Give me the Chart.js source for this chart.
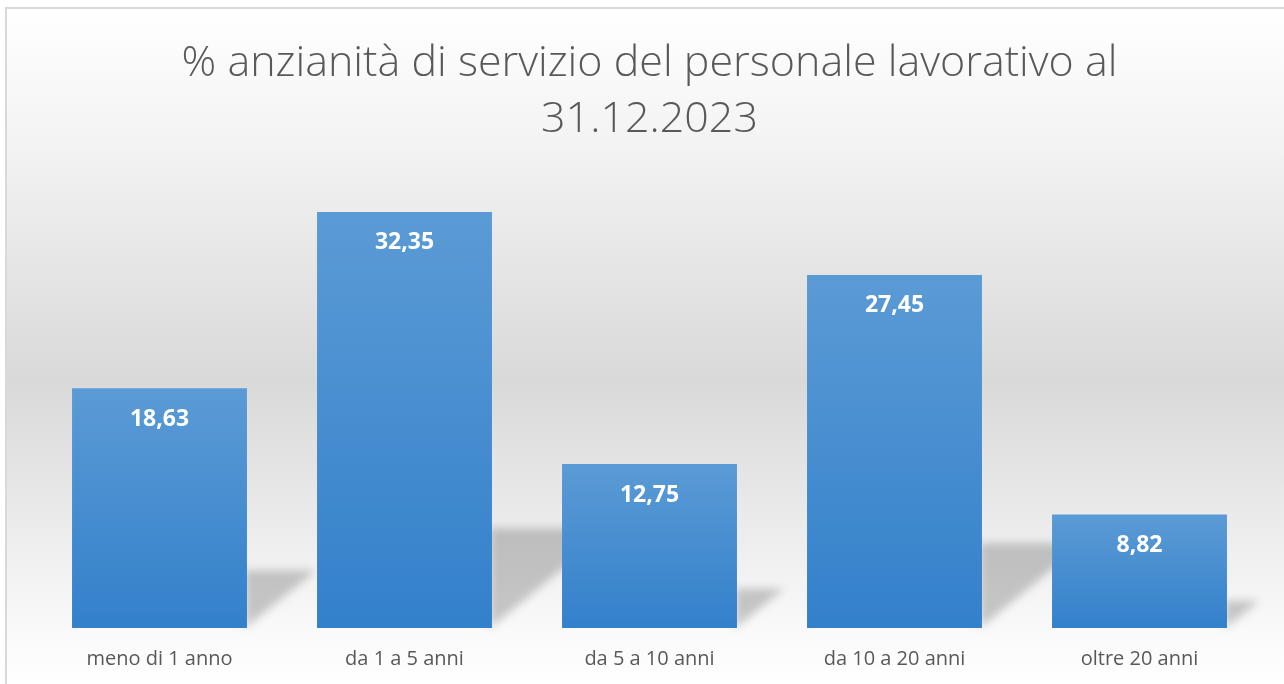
<!DOCTYPE html>
<html>
<head>
<meta charset="utf-8">
<script src="https://cdn.jsdelivr.net/npm/chart.js@4/dist/chart.umd.min.js"></script>
<style>
  html, body { margin: 0; padding: 0; background: #ffffff; }
  #wrap { position: absolute; left: 0; top: 0; width: 1284px; height: 684px; }
</style>
</head>
<body>
<div id="wrap"><canvas id="chart" width="1284" height="684"></canvas></div>
<script>
const categories = ['meno di 1 anno', 'da 1 a 5 anni', 'da 5 a 10 anni', 'da 10 a 20 anni', 'oltre 20 anni']
const values = [18.63, 32.35, 12.75, 27.45, 8.82]
const titleLines = ['% anzianità di servizio del personale lavorativo al', '31.12.2023']

const FONT = '"Open Sans", "Noto Sans", sans-serif'

// background panel with the thin grey frame
const panelBackground = {
  id: 'panelBackground',
  beforeDraw(chart) {
    const ctx = chart.ctx
    const w = chart.width, h = chart.height
    ctx.save()
    const g = ctx.createLinearGradient(0, 9, 0, h)
    g.addColorStop(0, '#ffffff')
    g.addColorStop(0.2, '#f3f3f3')
    g.addColorStop(0.55, '#d9d9d9')
    g.addColorStop(0.93, '#fafafa')
    g.addColorStop(1, '#ffffff')
    ctx.fillStyle = g
    ctx.fillRect(7, 9, w - 7, h - 9)
    ctx.strokeStyle = '#d9d9d9'
    ctx.lineWidth = 2
    ctx.beginPath()
    ctx.moveTo(6, h)
    ctx.lineTo(6, 8)
    ctx.lineTo(w, 8)
    ctx.stroke()
    ctx.restore()
  }
}

// perspective shadow cast behind each bar
const barShadows = {
  id: 'barShadows',
  beforeDatasetsDraw(chart) {
    const ctx = chart.ctx
    const bars = chart.getDatasetMeta(0).data
    ctx.save()
    ctx.filter = 'blur(4px)'
    ctx.fillStyle = 'rgba(0, 0, 0, 0.2)'
    bars.forEach(bar => {
      const right = bar.x + bar.width / 2
      const s = (bar.base - bar.y) * 0.24
      const w = s * 1.2
      ctx.beginPath()
      ctx.moveTo(right - 2, bar.base)
      ctx.lineTo(right - 2, bar.base - s)
      ctx.lineTo(right + w, bar.base - s)
      ctx.closePath()
      ctx.fill()
    })
    ctx.restore()
  }
}

// white value labels near the top of each bar
const valueLabels = {
  id: 'valueLabels',
  afterDatasetsDraw(chart) {
    const ctx = chart.ctx
    const bars = chart.getDatasetMeta(0).data
    ctx.save()
    ctx.font = 'bold 23px ' + FONT
    ctx.fillStyle = '#ffffff'
    ctx.textAlign = 'center'
    ctx.textBaseline = 'middle'
    bars.forEach((bar, i) => {
      ctx.fillText(values[i].toFixed(2).replace('.', ','), bar.x, bar.y + 31)
    })
    ctx.restore()
  }
}

function barFill(context) {
  const chart = context.chart
  if (!chart.chartArea) return '#4a8fd2'
  const y = chart.scales.y
  const top = y.getPixelForValue(values[context.dataIndex])
  const bottom = y.getPixelForValue(0)
  const g = chart.ctx.createLinearGradient(0, top, 0, bottom)
  g.addColorStop(0, '#5b9bd5')
  g.addColorStop(1, '#3380cb')
  return g
}

new Chart(document.getElementById('chart'), {
  type: 'bar',
  data: {
    labels: categories,
    datasets: [{
      data: values,
      backgroundColor: barFill,
      borderWidth: 0,
      categoryPercentage: 0.714,
      barPercentage: 1
    }]
  },
  options: {
    responsive: false,
    animation: false,
    layout: { padding: { top: 10, left: 37, right: 22, bottom: 0 } },
    plugins: {
      legend: { display: false },
      tooltip: { enabled: false },
      title: {
        display: true,
        text: titleLines,
        color: '#595959',
        font: { family: FONT, size: 43, weight: '300', lineHeight: 1.3 },
        padding: { top: 26, bottom: 30 }
      }
    },
    scales: {
      x: {
        grid: { display: false, drawTicks: false },
        border: { display: false },
        ticks: {
          color: '#595959',
          font: { family: FONT, size: 20 },
          padding: 19
        },
        afterFit(scale) { scale.height = 56 }
      },
      y: {
        display: false,
        min: 0,
        max: 35
      }
    }
  },
  plugins: [panelBackground, barShadows, valueLabels]
})
</script>
</body>
</html>
